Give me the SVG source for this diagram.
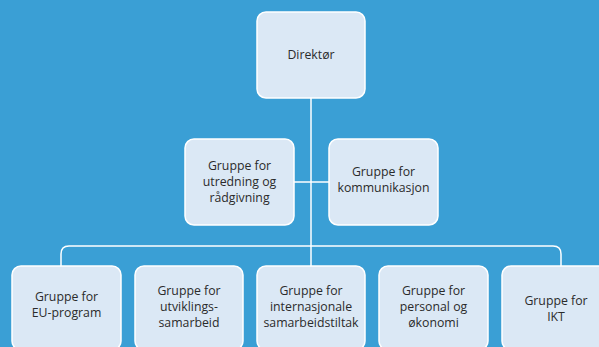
<svg xmlns="http://www.w3.org/2000/svg" width="599" height="347" viewBox="0 0 599 347">
<style>
.box{fill:#dbe8f5;stroke:#ffffff;stroke-width:1.5}
.lbl{font-family:"Open Sans","Noto Sans",sans-serif;font-size:12.3px;fill:#2b2b2b;text-anchor:middle}
.conn{fill:none;stroke:#ffffff;stroke-width:1.5}
</style>
<rect x="0" y="0" width="599" height="347" fill="#3a9fd5"/>
<g id="connectors">
<path class="conn" d="M311,98 V266"/>
<path class="conn" d="M294,182 H329"/>
<path class="conn" d="M61,266 V254 Q61,246 69,246 H553 Q561,246 561,254 V266"/>
</g>
<g id="direktor">
<rect class="box" x="257" y="12" width="108" height="86" rx="9"/>
<text class="lbl" x="311" y="59">Direktør</text>
</g>
<g id="utredning">
<rect class="box" x="185" y="139" width="109" height="86" rx="9"/>
<text class="lbl" x="239.5" y="169.5">Gruppe for</text>
<text class="lbl" x="239.5" y="185.5">utredning og</text>
<text class="lbl" x="239.5" y="201.5">rådgivning</text>
</g>
<g id="kommunikasjon">
<rect class="box" x="329" y="139" width="109" height="86" rx="9"/>
<text class="lbl" x="383.5" y="175.5">Gruppe for</text>
<text class="lbl" x="383.5" y="191.5">kommunikasjon</text>
</g>
<g id="eu">
<rect class="box" x="12" y="266" width="109" height="84" rx="9"/>
<text class="lbl" x="66.5" y="300.5">Gruppe for</text>
<text class="lbl" x="66.5" y="316.5">EU-program</text>
</g>
<g id="utvikling">
<rect class="box" x="135" y="266" width="108" height="84" rx="9"/>
<text class="lbl" x="189" y="295">Gruppe for</text>
<text class="lbl" x="189" y="311">utviklings-</text>
<text class="lbl" x="189" y="327">samarbeid</text>
</g>
<g id="internasjonale">
<rect class="box" x="257" y="266" width="108" height="84" rx="9"/>
<text class="lbl" x="311" y="295">Gruppe for</text>
<text class="lbl" x="311" y="311">internasjonale</text>
<text class="lbl" x="311" y="327">samarbeidstiltak</text>
</g>
<g id="personal">
<rect class="box" x="379" y="266" width="109" height="84" rx="9"/>
<text class="lbl" x="433.5" y="295">Gruppe for</text>
<text class="lbl" x="433.5" y="311">personal og</text>
<text class="lbl" x="433.5" y="327">økonomi</text>
</g>
<g id="ikt">
<rect class="box" x="502" y="266" width="109" height="84" rx="9"/>
<text class="lbl" x="556" y="305">Gruppe for</text>
<text class="lbl" x="556" y="321">IKT</text>
</g>
</svg>
